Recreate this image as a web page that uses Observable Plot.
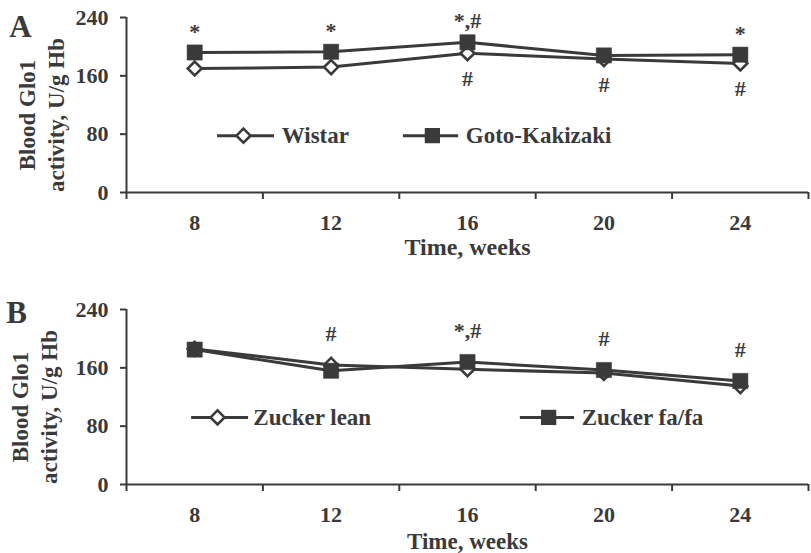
<!DOCTYPE html>
<html>
<head>
<meta charset="utf-8">
<script src="https://cdn.jsdelivr.net/npm/d3@7"></script>
<script src="https://cdn.jsdelivr.net/npm/@observablehq/plot@0.6"></script>
<style>
  html, body { margin: 0; padding: 0; background: #fff; }
  #chart { width: 811px; height: 553px; overflow: hidden; }
  #chart svg { display: block; }
</style>
</head>
<body>
<div id="chart"></div>
<script>
// ---------- data ----------
const weeks = [8, 12, 16, 20, 24];
const xTickLabels = ["8", "12", "16", "20", "24"];
const yTicks = [0, 80, 160, 240];
const bandEdges = [6, 10, 14, 18, 22, 26];

const wistar       = [170, 172, 191, 183, 177];
const gotoKakizaki = [192, 193, 206, 188, 189];
const zuckerLean   = [186, 164, 158, 153, 135];
const zuckerFaFa   = [185, 156, 168, 157, 142];

const seriesNamesA = ["Wistar", "Goto-Kakizaki"];
const seriesNamesB = ["Zucker lean", "Zucker fa/fa"];

const annotWeeksA  = [8, 12, 16, 24, 16, 20, 24];
const annotLabelsA = ["*", "*", "*,#", "*", "#", "#", "#"];
const annotSidesA  = ["above", "above", "above", "above", "below", "below", "below"];

const annotWeeksB  = [12, 16, 20, 24];
const annotLabelsB = ["#", "*,#", "#", "#"];
const annotSidesB  = ["above", "above", "above", "above"];

// ---------- drawing ----------
const ink = "#3a3a3a";
const serif = "'Liberation Serif', 'Times New Roman', serif";

function panel(cfg) {
  const [openVals, filledVals] = cfg.values;
  const [openName, filledName] = cfg.names;
  const openRows = weeks.map((w, i) => ({week: w, value: openVals[i], series: openName}));
  const filledRows = weeks.map((w, i) => ({week: w, value: filledVals[i], series: filledName}));
  const rows = openRows.concat(filledRows);

  const annots = cfg.annot.weeks.map((w, i) => {
    const k = weeks.indexOf(w);
    const above = cfg.annot.sides[i] === "above";
    return {
      week: w,
      label: cfg.annot.labels[i],
      above,
      value: above ? Math.max(openVals[k], filledVals[k]) : Math.min(openVals[k], filledVals[k])
    };
  });

  const L = cfg.legend;
  const legendLines = [
    {x1: L.open[0], x2: L.open[2]},
    {x1: L.filled[0], x2: L.filled[2]}
  ];

  return Plot.plot({
    width: 811,
    height: cfg.height,
    marginLeft: 126,
    marginRight: 3,
    marginTop: cfg.marginTop,
    marginBottom: cfg.marginBottom,
    style: {fontFamily: serif, fontSize: "22px", fontWeight: "bold", color: ink, background: "#fff"},
    x: {domain: [6, 26], label: null},
    y: {domain: [0, 240], label: null},
    marks: [
      Plot.axisY({ticks: yTicks, tickSize: 6, tickPadding: 12, strokeWidth: 2, label: null, fontSize: 22}),
      Plot.axisX({ticks: bandEdges, tickSize: 7, strokeWidth: 2, tickFormat: () => "", label: null}),
      Plot.axisX({ticks: weeks, tickSize: 0, tickPadding: cfg.tickPad, label: null, fontSize: 22,
                  tickFormat: d => xTickLabels[weeks.indexOf(d)]}),
      Plot.ruleX([6], {stroke: ink, strokeWidth: 2}),
      Plot.ruleY([0], {stroke: ink, strokeWidth: 2}),
      Plot.text(["Time, weeks"], {text: d => d, frameAnchor: "bottom", textAnchor: "middle", lineAnchor: "middle",
                dy: cfg.titleDy, fontSize: cfg.titleSize, fill: ink}),
      Plot.text(["Blood Glo1\nactivity, U/g Hb"], {text: d => d, frameAnchor: "left", rotate: -90,
                textAnchor: "middle", lineAnchor: "middle",
                dx: cfg.yTitleDx, dy: 10, lineHeight: 1.22, fontSize: 23, fill: ink}),
      Plot.text([cfg.letter], {text: d => d, frameAnchor: "top-left", textAnchor: "middle", lineAnchor: "middle",
                dx: cfg.letterDx, dy: cfg.letterDy, fontSize: 31, fill: ink}),
      // series lines and markers
      Plot.line(rows, {x: "week", y: "value", z: "series", stroke: ink, strokeWidth: 3}),
      Plot.dot(openRows, {x: "week", y: "value", symbol: "diamond2", r: 6.3, fill: "#fff", stroke: ink, strokeWidth: 2.6}),
      Plot.dot(filledRows, {x: "week", y: "value", symbol: "square", r: 8.6, fill: ink, stroke: ink, strokeWidth: 0.5}),
      // significance annotations
      Plot.text(annots.filter(d => d.above), {x: "week", y: "value", text: "label", fontSize: 22, fill: ink,
                lineAnchor: "middle", dy: cfg.aboveDy}),
      Plot.text(annots.filter(d => !d.above), {x: "week", y: "value", text: "label", fontSize: 22, fill: ink,
                lineAnchor: "middle", dy: cfg.belowDy}),
      // legend
      Plot.ruleY(legendLines, {x1: "x1", x2: "x2", y: () => L.y, stroke: ink, strokeWidth: 3}),
      Plot.dot([L.open[1]], {x: d => d, y: () => L.y, symbol: "diamond2", r: 6.3, fill: "#fff", stroke: ink, strokeWidth: 2.6}),
      Plot.dot([L.filled[1]], {x: d => d, y: () => L.y, symbol: "square", r: 8.6, fill: ink}),
      Plot.text([openName], {text: d => d, x: () => L.openText, y: () => L.y, textAnchor: "start", fontSize: 23, fill: ink}),
      Plot.text([filledName], {text: d => d, x: () => L.filledText, y: () => L.y, textAnchor: "start", fontSize: 23, fill: ink})
    ]
  });
}

const chart = document.getElementById("chart");

chart.append(panel({
  letter: "A",
  values: [wistar, gotoKakizaki],
  names: seriesNamesA,
  annot: {weeks: annotWeeksA, labels: annotLabelsA, sides: annotSidesA},
  height: 270, marginTop: 17, marginBottom: 78,
  tickPad: 22, titleDy: 55, titleSize: 24, yTitleDx: -86,
  letterDx: -106, letterDy: 10,
  aboveDy: -21, belowDy: 26,
  legend: {y: 78, open: [8.67, 9.43, 10.34], openText: 10.55, filled: [14.12, 14.97, 15.74], filledText: 15.95}
}));

chart.append(panel({
  letter: "B",
  values: [zuckerLean, zuckerFaFa],
  names: seriesNamesB,
  annot: {weeks: annotWeeksB, labels: annotLabelsB, sides: annotSidesB},
  height: 283, marginTop: 39, marginBottom: 69,
  tickPad: 22, titleDy: 57, titleSize: 23, yTitleDx: -93,
  letterDx: -110, letterDy: 4,
  aboveDy: -31, belowDy: 26,
  legend: {y: 92, open: [7.91, 8.67, 9.58], openText: 9.72, filled: [17.55, 18.38, 19.14], filledText: 19.35}
}));
</script>
</body>
</html>
